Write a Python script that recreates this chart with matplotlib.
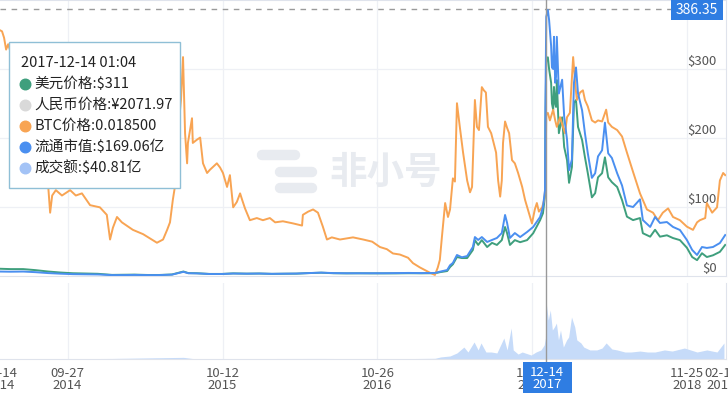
import numpy as np
import pandas as pd
import matplotlib
matplotlib.use("Agg")
import matplotlib.pyplot as plt
import matplotlib.dates as mdates
import matplotlib.transforms as mtransforms
from matplotlib.patches import Rectangle
from matplotlib.lines import Line2D

plt.rcParams['font.family'] = ['Noto Sans CJK SC', 'DejaVu Sans']

W, H = 728, 393

# USD price ($) and circulating market cap (亿 USD), same dates
price_dates = [
    "2014-04-14", "2014-05-10", "2014-06-10", "2014-07-10", "2014-08-10", "2014-09-10",
    "2014-10-10", "2014-11-10", "2014-12-10", "2015-01-14", "2015-02-10", "2015-03-10",
    "2015-04-10", "2015-05-10", "2015-06-10", "2015-07-08", "2015-07-20", "2015-08-10",
    "2015-09-10", "2015-10-10", "2015-11-07", "2015-12-10", "2016-01-10", "2016-02-10",
    "2016-03-10", "2016-04-10", "2016-05-10", "2016-06-10", "2016-07-10", "2016-08-10",
    "2016-09-10", "2016-10-10", "2016-11-10", "2016-12-10", "2017-01-10", "2017-02-10",
    "2017-03-16", "2017-03-28", "2017-04-15", "2017-04-22", "2017-04-29", "2017-05-09",
    "2017-05-21", "2017-06-03", "2017-06-17", "2017-06-22", "2017-06-30", "2017-07-09",
    "2017-07-22", "2017-08-03", "2017-08-15", "2017-08-27", "2017-09-04", "2017-09-09",
    "2017-09-16", "2017-09-28", "2017-10-11", "2017-10-28", "2017-11-12", "2017-11-29",
    "2017-12-06", "2017-12-11", "2017-12-12", "2017-12-14", "2017-12-18", "2017-12-21",
    "2017-12-26", "2017-12-28", "2017-12-31", "2018-01-02", "2018-01-05", "2018-01-07",
    "2018-01-09", "2018-01-14", "2018-01-22", "2018-01-27", "2018-02-03", "2018-02-08",
    "2018-02-15", "2018-02-20", "2018-02-25", "2018-03-02", "2018-03-12", "2018-03-19",
    "2018-03-26", "2018-04-05", "2018-04-13", "2018-04-20", "2018-04-30", "2018-05-07",
    "2018-05-15", "2018-05-24", "2018-06-06", "2018-06-18", "2018-06-30", "2018-07-15",
    "2018-08-01", "2018-08-08", "2018-08-26", "2018-09-07", "2018-09-19", "2018-10-06",
    "2018-10-21", "2018-11-07", "2018-11-24", "2018-12-07", "2018-12-19", "2018-12-31",
    "2019-01-12", "2019-01-27", "2019-02-13", "2019-02-26",
]
usd_price = [
    10.5, 10.0, 10.0, 8.5, 6.5, 5.0,
    4.0, 3.6, 3.2, 1.6, 1.8, 2.0,
    1.5, 1.5, 2.2, 6.5, 4.2, 4.0,
    3.0, 3.0, 3.8, 3.4, 3.6, 3.1,
    3.3, 3.4, 4.2, 4.8, 4.0, 3.8,
    3.9, 3.8, 3.8, 3.8, 4.0, 3.9,
    4.0, 5.5, 7.2, 13, 17, 27.5,
    26, 26, 37.7, 52, 45, 52,
    42, 48, 45, 52, 71, 62,
    45, 52, 49, 52, 62, 81,
    91, 117, 220, 311, 317, 300,
    280, 250, 241, 274, 250, 245,
    284, 207, 230, 187, 168, 135,
    158, 251, 255, 216, 197, 172,
    149, 114, 120, 143, 149, 172,
    143, 136, 129, 110, 86, 81,
    84, 62, 57, 67, 57, 59,
    55, 52, 41, 27.5, 23, 33,
    27.5, 30, 35, 45,
]
market_cap = [
    2.9, 2.8, 2.9, 2.5, 1.9, 1.5,
    1.2, 1.1, 1.0, 0.6, 0.6, 0.7,
    0.6, 0.6, 0.9, 2.7, 1.8, 1.7,
    1.3, 1.3, 1.6, 1.5, 1.6, 1.4,
    1.5, 1.6, 1.9, 2.2, 1.9, 1.8,
    1.8, 1.8, 1.8, 1.9, 2.0, 1.9,
    2.0, 2.8, 3.9, 7.0, 8.5, 13.7,
    12.2, 13.0, 18.9, 25.4, 23.5, 25.4,
    22.2, 23.5, 24.8, 28.0, 39.8, 34.6,
    24.8, 28.0, 25.4, 28.7, 32.0, 38.5,
    45.0, 56, 110, 169.06, 173.5, 167,
    150, 136, 135, 156, 126, 130,
    156, 119, 128, 104, 89, 69,
    76, 126, 136, 119, 108, 93,
    80, 64, 67, 78, 82, 100,
    80, 77, 67, 59, 46, 45,
    50, 36.5, 32, 38.5, 34.6, 35.2,
    32, 30, 23.5, 17, 13.7, 18.9,
    18.3, 18.9, 21.5, 26.7,
]

# price in BTC
btc_dates = [
    "2014-04-14", "2014-04-19", "2014-04-24", "2014-04-29", "2014-05-04", "2014-05-13",
    "2014-05-28", "2014-06-14", "2014-07-02", "2014-07-21", "2014-08-05", "2014-08-10",
    "2014-08-15", "2014-08-20", "2014-08-29", "2014-09-13", "2014-10-03", "2014-10-17",
    "2014-11-01", "2014-11-21", "2014-12-15", "2015-01-01", "2015-01-09", "2015-01-16",
    "2015-01-26", "2015-02-07", "2015-03-06", "2015-03-31", "2015-04-17", "2015-05-04",
    "2015-05-19", "2015-05-29", "2015-06-05", "2015-06-12", "2015-06-17", "2015-06-25",
    "2015-07-02", "2015-07-07", "2015-07-12", "2015-07-17", "2015-07-19", "2015-07-29",
    "2015-07-31", "2015-08-10", "2015-08-18", "2015-08-25", "2015-09-04", "2015-09-11",
    "2015-09-28", "2015-10-06", "2015-10-13", "2015-10-23", "2015-10-30", "2015-11-07",
    "2015-11-16", "2015-11-24", "2015-11-29", "2015-12-06", "2015-12-18", "2016-01-04",
    "2016-01-19", "2016-02-05", "2016-02-18", "2016-03-08", "2016-04-02", "2016-04-24",
    "2016-04-26", "2016-05-09", "2016-05-21", "2016-06-02", "2016-06-14", "2016-06-24",
    "2016-07-06", "2016-07-26", "2016-08-27", "2016-09-21", "2016-10-13", "2016-11-01",
    "2016-11-18", "2016-12-03", "2016-12-20", "2017-01-09", "2017-01-21", "2017-02-07",
    "2017-03-04", "2017-03-16", "2017-03-23", "2017-03-28", "2017-04-02", "2017-04-10",
    "2017-04-17", "2017-04-22", "2017-04-27", "2017-04-29", "2017-05-04", "2017-05-09",
    "2017-05-16", "2017-05-24", "2017-05-29", "2017-06-03", "2017-06-10", "2017-06-15",
    "2017-06-22", "2017-06-27", "2017-07-02", "2017-07-09", "2017-07-14", "2017-07-19",
    "2017-07-24", "2017-08-01", "2017-08-05", "2017-08-13", "2017-08-18", "2017-08-23",
    "2017-08-27", "2017-08-30", "2017-09-04", "2017-09-09", "2017-09-14", "2017-09-21",
    "2017-09-28", "2017-10-06", "2017-10-16", "2017-10-23", "2017-10-30", "2017-11-09",
    "2017-11-16", "2017-11-21", "2017-11-26", "2017-12-04", "2017-12-09", "2017-12-12",
    "2017-12-14", "2017-12-18", "2017-12-23", "2017-12-31", "2018-01-05", "2018-01-09",
    "2018-01-17", "2018-01-24", "2018-01-29", "2018-02-03", "2018-02-10", "2018-02-18",
    "2018-02-23", "2018-02-27", "2018-03-07", "2018-03-14", "2018-03-19", "2018-03-26",
    "2018-04-05", "2018-04-13", "2018-04-20", "2018-04-30", "2018-05-10", "2018-05-15",
    "2018-05-24", "2018-06-06", "2018-06-18", "2018-06-30", "2018-07-15", "2018-08-01",
    "2018-08-18", "2018-09-02", "2018-09-14", "2018-09-26", "2018-10-09", "2018-10-21",
    "2018-11-07", "2018-11-24", "2018-12-09", "2018-12-19", "2018-12-26", "2019-01-08",
    "2019-01-12", "2019-01-25", "2019-02-06", "2019-02-13", "2019-02-21", "2019-02-26",
]
btc_price = [
    0.0264, 0.0263, 0.0257, 0.0246, 0.0251, 0.0240,
    0.0215, 0.0180, 0.0160, 0.0135, 0.0122, 0.0120,
    0.0094, 0.0110, 0.0115, 0.0110, 0.0115, 0.0110,
    0.0112, 0.0101, 0.0099, 0.0092, 0.0069, 0.0080,
    0.0090, 0.0085, 0.0078, 0.0074, 0.0070, 0.0066,
    0.0069, 0.0078, 0.0085, 0.0106, 0.0118, 0.0171,
    0.0199, 0.0239, 0.0168, 0.0140, 0.0159, 0.0182,
    0.0159, 0.0162, 0.0164, 0.0140, 0.0131, 0.0134,
    0.0140, 0.0136, 0.0131, 0.0118, 0.0129, 0.0099,
    0.0104, 0.0112, 0.0106, 0.0098, 0.0087, 0.0089,
    0.0087, 0.0089, 0.0085, 0.0086, 0.0084, 0.0082,
    0.0092, 0.0095, 0.0097, 0.0094, 0.0081, 0.0069,
    0.0071, 0.0069, 0.0071, 0.0069, 0.0067, 0.0062,
    0.0060, 0.0056, 0.0055, 0.0052, 0.0047, 0.0043,
    0.0038, 0.0036, 0.0043, 0.0050, 0.0071, 0.0103,
    0.0090, 0.0097, 0.0118, 0.0126, 0.0123, 0.0196,
    0.0174, 0.0150, 0.0137, 0.0124, 0.0113, 0.0118,
    0.0199, 0.0174, 0.0171, 0.0211, 0.0208, 0.0206,
    0.0174, 0.0168, 0.0162, 0.0150, 0.0124, 0.0109,
    0.0124, 0.0159, 0.0179, 0.0173, 0.0168, 0.0143,
    0.0140, 0.0131, 0.0118, 0.0106, 0.0097, 0.0084,
    0.0097, 0.0103, 0.0095, 0.0099, 0.0106, 0.0118,
    0.0185, 0.0187, 0.0180, 0.0190, 0.0180, 0.0174,
    0.0183, 0.0174, 0.0168, 0.0183, 0.0187, 0.0239,
    0.0215, 0.0199, 0.0206, 0.0208, 0.0199, 0.0193,
    0.0180, 0.0178, 0.0180, 0.0179, 0.0190, 0.0178,
    0.0174, 0.0171, 0.0165, 0.0150, 0.0132, 0.0112,
    0.0097, 0.0094, 0.0087, 0.0094, 0.0098, 0.0090,
    0.0087, 0.0081, 0.0078, 0.0085, 0.0087, 0.0089,
    0.0103, 0.0094, 0.0099, 0.0124, 0.0131, 0.0129,
]

# trading volume (亿 USD)
vol_dates = [
    "2014-04-14", "2014-08-01", "2015-01-14", "2015-07-08", "2015-08-01", "2016-06-10",
    "2016-12-01", "2017-03-16", "2017-03-30", "2017-04-22", "2017-05-09", "2017-05-26",
    "2017-06-05", "2017-06-20", "2017-06-30", "2017-07-07", "2017-07-19", "2017-08-01",
    "2017-08-15", "2017-09-01", "2017-09-09", "2017-09-19", "2017-09-24", "2017-10-06",
    "2017-10-16", "2017-11-07", "2017-11-19", "2017-12-01", "2017-12-09", "2017-12-12",
    "2017-12-14", "2017-12-19", "2017-12-24", "2017-12-29", "2018-01-03", "2018-01-08",
    "2018-01-13", "2018-01-18", "2018-01-25", "2018-02-02", "2018-02-07", "2018-02-14",
    "2018-02-22", "2018-02-27", "2018-03-09", "2018-03-16", "2018-03-31", "2018-04-17",
    "2018-04-30", "2018-05-10", "2018-05-24", "2018-06-06", "2018-06-25", "2018-07-10",
    "2018-08-01", "2018-08-19", "2018-09-07", "2018-09-30", "2018-10-19", "2018-11-18",
    "2018-12-03", "2018-12-19", "2019-01-12", "2019-02-06", "2019-02-23",
]
volume = [
    0.3, 0.2, 0.4, 1.2, 0.3, 0.4,
    0.2, 0.5, 1.5, 2.2, 4.4, 8.7,
    5.1, 12.4, 6.6, 11.7, 5.1, 5.1,
    4.4, 15.3, 6.6, 22.6, 6.6, 3.6,
    5.1, 2.9, 5.1, 6.6, 10.2, 15.3,
    40.81, 28.4, 35.7, 21.1, 23.3, 26.2,
    13.9, 21.1, 8.7, 13.9, 16.0, 30.6,
    23.3, 13.9, 11.7, 8.7, 6.6, 6.6,
    8.0, 11.7, 7.3, 6.6, 5.1, 5.1,
    5.8, 5.1, 5.1, 6.6, 5.8, 8.0,
    6.6, 5.1, 6.6, 5.1, 11.7,
]

tick_dates = ["2014-04-14", "2014-09-27", "2015-10-12", "2016-10-26",
              "2017-11-10", "2018-11-25", "2019-02-16"]
tick_labels = ["04-14\n2014", "09-27\n2014", "10-12\n2015", "10-26\n2016",
               "11-10\n2017", "11-25\n2018", "02-16\n2019"]
usd_ticks = [0, 100, 200, 300]

hover_date = "2017-12-14"
hover_label = "12-14\n2017"
hover_title = "2017-12-14 01:04"
hover_value = 386.35
tip_names = ["美元价格", "人民币价格", "BTC价格", "流通市值", "成交额"]
tip_values = ["$311", "¥2071.97", "0.018500", "$169.06亿", "$40.81亿"]

c_usd = "#3f9f7d"
c_cny = "#d9d9d9"
c_btc = "#f8a453"
c_cap = "#4a8ff0"
c_vol = "#c6dbf9"
tip_colors = [c_usd, c_cny, c_btc, c_cap, "#a3c3f6"]
grid_c = "#eef0f5"
base_c = "#dfe3ec"
mark_c = "#e8ebf0"
accent = "#2f7de2"


def fx(px):
    return px / W


def fy(py):
    return 1 - py / H


fig = plt.figure(figsize=(W / 100, H / 100), dpi=100)
ax = fig.add_axes([0, fy(276), 726 / W, 276 / H])
axv = fig.add_axes([0, fy(359), 726 / W, 76 / H], sharex=ax)

pdates = pd.to_datetime(price_dates)
bdates = pd.to_datetime(btc_dates)
vdates = pd.to_datetime(vol_dates)
ax.set_xlim(pd.Timestamp("2014-04-14"), pd.Timestamp("2019-02-28"))
ax.set_ylim(0, 400)

# grid
for v in usd_ticks[1:]:
    ax.axhline(v, color=grid_c, lw=0.9, zorder=0)
for d in tick_dates[1:6]:
    ax.axvline(pd.Timestamp(d), color=grid_c, lw=0.9, zorder=0)
    axv.axvline(pd.Timestamp(d), color=grid_c, lw=0.9, zorder=0)

# watermark
wm_tr = ax.transAxes
def wm_x(px):
    return px / 726
def wm_y(py):
    return (276 - py) / 276
pills = [((262, 295), 155), ((310.5, 311), 155),
         ((262.5, 263), 172), ((280, 312), 172),
         ((262.5, 263), 188), ((280, 312), 188)]
for (x0, x1), yy in pills:
    ax.add_line(Line2D([wm_x(x0), wm_x(x1)], [wm_y(yy), wm_y(yy)], transform=wm_tr,
                       color=mark_c, lw=7.5, solid_capstyle='round', zorder=0.5))
ax.text(wm_x(386), wm_y(172), "非小号", transform=wm_tr, fontsize=27, fontweight='bold',
        color=mark_c, ha='center', va='center', zorder=0.5)

# series
ax.plot(pdates, usd_price, color=c_usd, lw=1.4, zorder=2)
ax_btc = ax.twinx()
ax_btc.set_ylim(0.0035, 0.02922)
ax_btc.plot(bdates, btc_price, color=c_btc, lw=1.4)
ax_btc.axis('off')
ax_cap = ax.twinx()
ax_cap.set_ylim(0, 180)
ax_cap.plot(pdates, market_cap, color=c_cap, lw=1.4)
ax_cap.axis('off')

axv.set_ylim(0, 55.4)
axv.fill_between(vdates, volume, color=c_vol, lw=0)

# axes styling
for a in (ax, axv):
    for s in ('left', 'top', 'right'):
        a.spines[s].set_visible(False)
    a.spines['bottom'].set_color(base_c)
    a.set_yticks([])
    a.tick_params(axis='x', length=0)
ax.spines['top'].set_visible(True)
ax.spines['top'].set_color(base_c)
ax.spines['right'].set_visible(True)
ax.spines['right'].set_color(base_c)
axv.spines['right'].set_visible(True)
axv.spines['right'].set_color(base_c)
ax.tick_params(axis='x', labelbottom=False)

axv.set_xticks(pd.to_datetime(tick_dates))
axv.set_xticklabels(tick_labels)
axv.tick_params(axis='x', pad=6, labelsize=9.5, labelcolor='#555555')
for lbl in axv.get_xticklabels():
    lbl.set_linespacing(0.9)

ytr = mtransforms.blended_transform_factory(ax.transAxes, ax.transData)
for v in usd_ticks:
    ax.text(717 / 726, v + 2, f"${v}", transform=ytr, ha='right', va='bottom',
            fontsize=9.5, color='#555555', zorder=3)

# hover crosshair
hx = mdates.date2num(pd.Timestamp(hover_date))
vtr = mtransforms.blended_transform_factory(ax.transData, fig.transFigure)
fig.add_artist(Line2D([hx, hx], [fy(363), 1], transform=vtr, color='#999999', lw=1))
ax.axhline(hover_value, xmin=0, xmax=671 / 726, color='#9a9a9a', lw=1, ls=(0, (4, 4)))

fig.add_artist(Rectangle((fx(671), fy(20)), 52 / W, 20 / H, transform=fig.transFigure,
                         fc=accent, ec='none'))
fig.text(fx(697), fy(10), f"{hover_value:.2f}", color='white', fontsize=10,
         ha='center', va='center')

fig.add_artist(Rectangle((fx(523), fy(393)), 49 / W, 31 / H, transform=fig.transFigure,
                         fc=accent, ec='none', zorder=5))
fig.text(fx(547), fy(378), hover_label, color='white', fontsize=9.5, ha='center',
         va='center', linespacing=0.9, zorder=6)

# tooltip
fig.add_artist(Rectangle((fx(9), fy(188)), 171 / W, 146 / H, transform=fig.transFigure,
                         fc='white', ec='#8fbfd6', lw=1, zorder=7))
fig.text(fx(21), fy(63), hover_title, fontsize=10.5, color='#222222',
         ha='left', va='center', zorder=8)
for i, (name, val, col) in enumerate(zip(tip_names, tip_values, tip_colors)):
    yy = 84 + 21 * i
    fig.add_artist(Line2D([fx(25)], [fy(yy)], transform=fig.transFigure, marker='o',
                          ms=7.6, mfc=col, mec=col, ls='none', zorder=8))
    fig.text(fx(34), fy(yy), f"{name}:{val}", fontsize=10.5, color='#222222',
             ha='left', va='center', zorder=8)

fig.savefig("out.png", dpi=100)
